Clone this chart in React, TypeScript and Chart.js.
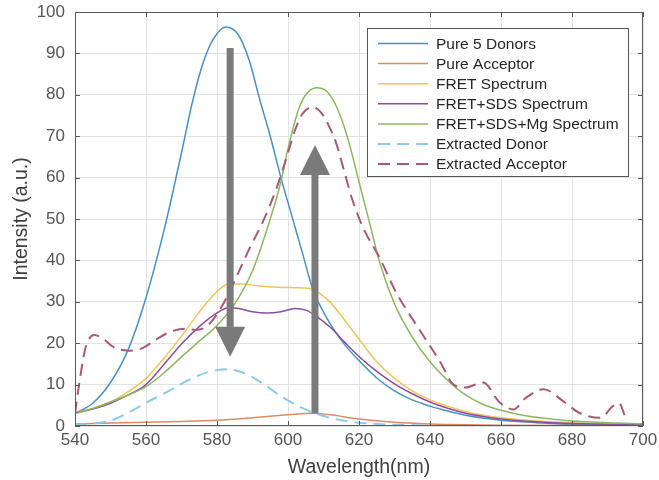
import React, { useEffect, useRef } from "react";
import { Chart, registerables } from "chart.js";

Chart.register(...registerables);

const FONT = "'Liberation Sans', Arial, Helvetica, sans-serif";

// ---- Data ----
const pureDonorX = [540, 545, 550, 555, 560, 565, 570, 573, 576, 579, 582.5, 586, 589, 592, 595, 598, 601, 604, 607, 610, 613, 616, 620, 625, 630, 635, 640, 645, 650, 660, 670, 680, 690, 700];
const pureDonorY = [3, 5.5, 10.5, 18.5, 31, 47, 66, 78, 87.5, 93.5, 96.4, 94.5, 88.5, 79, 70, 60, 51, 42, 33, 27.5, 23.2, 19.6, 15.8, 11.6, 8.5, 6.3, 4.8, 3.6, 2.6, 1.4, 0.8, 0.4, 0.3, 0.2];

const pureAcceptorX = [540, 550, 560, 570, 580, 590, 600, 607, 612, 620, 630, 640, 650, 660, 680, 700];
const pureAcceptorY = [0.5, 0.7, 0.9, 1.1, 1.4, 2, 2.7, 3.1, 2.7, 1.7, 0.9, 0.5, 0.3, 0.2, 0.1, 0.1];

const fretX = [540, 545, 550, 555, 560, 565, 570, 575, 580, 583, 587, 592, 597, 602, 606, 609, 612, 616, 620, 625, 630, 635, 640, 645, 650, 655, 660, 670, 680, 690, 700];
const fretY = [3.2, 4.3, 5.8, 8.3, 11.5, 16.3, 21.7, 27.5, 32.5, 34.2, 34.3, 33.8, 33.5, 33.4, 33.2, 32, 29.8, 25.5, 21, 15.5, 11.5, 8.5, 6.3, 4.8, 3.5, 2.6, 2, 1.2, 0.8, 0.5, 0.4];

const fretSdsX = [540, 545, 550, 555, 560, 565, 570, 575, 580, 583, 586, 590, 594, 598, 602, 605, 608, 612, 616, 620, 625, 630, 635, 640, 645, 650, 655, 660, 670, 680, 700];
const fretSdsY = [3.1, 4.1, 5.5, 7.5, 10, 14.8, 19.8, 24, 27.3, 28.5, 28.4, 27.6, 27.3, 27.6, 28.4, 28, 26.5, 23.8, 20.2, 16.8, 13.2, 10.2, 7.8, 5.8, 4.3, 3.1, 2.3, 1.7, 1, 0.6, 0.3];

const fretSdsMgX = [540, 545, 550, 555, 560, 565, 570, 575, 580, 585, 590, 595, 598, 600, 603, 605, 608, 611, 614, 617, 620, 623, 626, 630, 635, 640, 645, 650, 655, 660, 665, 670, 680, 690, 700];
const fretSdsMgY = [3, 4.2, 5.8, 7.5, 9.5, 12.8, 16.7, 20.5, 24.3, 29.5, 37.5, 50, 59, 67, 76.5, 80, 81.7, 80.8, 76.5, 69, 59, 49, 39, 29.5, 21.5, 15.5, 11, 7.5, 5.2, 3.8, 2.8, 2.1, 1.2, 0.8, 0.5];

const extractedDonorX = [540, 545, 550, 555, 560, 565, 570, 575, 580, 583, 587, 590, 594, 598, 602, 606, 610, 615, 620, 630, 640];
const extractedDonorY = [0.3, 0.6, 1.3, 3.2, 5.6, 7.8, 10.2, 12.3, 13.5, 13.7, 13, 11.8, 9.6, 7.2, 5.2, 3.6, 2.4, 1.4, 0.8, 0.3, 0.1];

const extractedAcceptorX = [540, 541.5, 543, 545.5, 548, 551, 555, 559, 563, 567, 571, 574, 577, 580, 583, 586, 589, 593, 597, 600, 602, 604, 607, 609.5, 611.5, 613.5, 616, 618, 621, 626, 630.5, 637, 643, 646.5, 650, 655, 659.5, 663.5, 667, 672, 677.5, 682, 688, 691.5, 693.2, 695];
const extractedAcceptorY = [3, 12, 19, 22, 21, 19, 18.2, 18.8, 21, 22.8, 23.5, 23.2, 24, 27, 31.5, 37, 42.6, 49.5, 58, 66, 71.5, 75.3, 77.1, 75.5, 72.5, 68.5, 61, 55, 48.2, 40.3, 32.2, 23.3, 15.3, 10.1, 9.3, 10.5, 5.8, 4, 6.8, 8.9, 6, 3.2, 2, 4.8, 5.6, 2.2];

const seriesLabels = [
  "Pure 5 Donors",
  "Pure Acceptor",
  "FRET Spectrum",
  "FRET+SDS Spectrum",
  "FRET+SDS+Mg Spectrum",
  "Extracted Donor",
  "Extracted Acceptor",
];
const seriesX = [pureDonorX, pureAcceptorX, fretX, fretSdsX, fretSdsMgX, extractedDonorX, extractedAcceptorX];
const seriesY = [pureDonorY, pureAcceptorY, fretY, fretSdsY, fretSdsMgY, extractedDonorY, extractedAcceptorY];
const seriesColors = ["#4a90c8", "#dc8a68", "#f0c45c", "#8a4e9c", "#8cb860", "#8ccbe8", "#a85a72"];
const seriesDashed = [false, false, false, false, false, true, true];

// Arrow annotations (data units): x position, start value, tip value
const arrowX = [583.7, 607.6];
const arrowFrom = [91.3, 3.1];
const arrowTo = [16.7, 67.9];

const xMin = 540, xMax = 700, xStep = 20;
const yMin = 0, yMax = 100, yStep = 10;

const overlayPlugin = {
  id: "overlay",
  afterDatasetsDraw(chart: any) {
    const { ctx, chartArea, scales } = chart;
    const xs = scales.x, ys = scales.y;
    const { left, right, top, bottom } = chartArea;
    ctx.save();

    // Axes box + inward ticks
    ctx.strokeStyle = "#5a5a5a";
    ctx.lineWidth = 1;
    ctx.beginPath();
    ctx.rect(left + 0.5, top + 0.5, right - left - 1, bottom - top - 1);
    ctx.stroke();
    const tl = 5;
    ctx.beginPath();
    xs.ticks.forEach((t: any) => {
      const px = Math.round(xs.getPixelForValue(t.value)) + 0.5;
      ctx.moveTo(px, bottom); ctx.lineTo(px, bottom - tl);
      ctx.moveTo(px, top); ctx.lineTo(px, top + tl);
    });
    ys.ticks.forEach((t: any) => {
      const py = Math.round(ys.getPixelForValue(t.value)) + 0.5;
      ctx.moveTo(left, py); ctx.lineTo(left + tl, py);
      ctx.moveTo(right, py); ctx.lineTo(right - tl, py);
    });
    ctx.stroke();

    // Arrows
    ctx.fillStyle = "#7a7a7a";
    for (let i = 0; i < arrowX.length; i++) {
      const px = xs.getPixelForValue(arrowX[i]);
      const y0 = ys.getPixelForValue(arrowFrom[i]);
      const y1 = ys.getPixelForValue(arrowTo[i]);
      const dir = Math.sign(y1 - y0);
      const headLen = 30, headHalf = 15, shaft = 7;
      const base = y1 - dir * headLen;
      ctx.fillRect(px - shaft / 2, Math.min(y0, base), shaft, Math.abs(base - y0));
      ctx.beginPath();
      ctx.moveTo(px - headHalf, base);
      ctx.lineTo(px + headHalf, base);
      ctx.lineTo(px, y1);
      ctx.closePath();
      ctx.fill();
    }

    // Legend
    const lw = 261, lh = 148;
    const lx = right - 15 - lw;
    const ly = top + 16;
    ctx.fillStyle = "#ffffff";
    ctx.fillRect(lx, ly, lw, lh);
    ctx.strokeStyle = "#555555";
    ctx.lineWidth = 1;
    ctx.strokeRect(Math.round(lx) + 0.5, Math.round(ly) + 0.5, lw, lh);
    ctx.font = `15.5px ${FONT}`;
    ctx.textBaseline = "middle";
    ctx.textAlign = "left";
    chart.data.datasets.forEach((ds: any, i: number) => {
      const cy = ly + 15.5 + i * 20.1;
      ctx.strokeStyle = ds.borderColor;
      ctx.lineWidth = ds.borderWidth;
      ctx.setLineDash(ds.borderDash || []);
      ctx.beginPath();
      ctx.moveTo(lx + 11, cy);
      ctx.lineTo(lx + 61, cy);
      ctx.stroke();
      ctx.setLineDash([]);
      ctx.fillStyle = "#262626";
      ctx.fillText(ds.label, lx + 69, cy + 1);
    });

    ctx.restore();
  },
};

export default function App() {
  const canvasRef = useRef<HTMLCanvasElement | null>(null);

  useEffect(() => {
    if (!canvasRef.current) return;
    const datasets = seriesLabels.map((label, i) => ({
      label,
      data: seriesX[i].map((x, j) => ({ x, y: seriesY[i][j] })),
      borderColor: seriesColors[i],
      backgroundColor: seriesColors[i],
      borderWidth: seriesDashed[i] ? 2 : 1.5,
      borderDash: seriesDashed[i] ? [12, 7] : [],
      pointRadius: 0,
      fill: false,
      cubicInterpolationMode: "monotone" as const,
      order: seriesLabels.length - i,
    }));
    const tickFont = { family: FONT, size: 17 };
    const titleFont = { family: FONT, size: 19.5 };
    const chart = new Chart(canvasRef.current, {
      type: "line",
      data: { datasets },
      options: {
        animation: false,
        responsive: false,
        devicePixelRatio: 1,
        layout: { padding: { top: 12, right: 16, left: 0, bottom: 0 } },
        plugins: { legend: { display: false }, tooltip: { enabled: false } },
        scales: {
          x: {
            type: "linear",
            min: xMin,
            max: xMax,
            ticks: { stepSize: xStep, padding: 4, color: "#555555", font: tickFont, maxRotation: 0 },
            grid: { color: "#e3e3e3", drawTicks: false },
            border: { display: false },
            title: { display: true, text: "Wavelength(nm)", color: "#404040", font: titleFont, padding: { top: 0, bottom: 1 } },
            afterFit(s: any) {
              s.height = 54;
              s.paddingLeft = 0;
              s.paddingRight = 0;
            },
          },
          y: {
            type: "linear",
            min: yMin,
            max: yMax,
            ticks: { stepSize: yStep, padding: 10, color: "#555555", font: tickFont },
            grid: { color: "#e3e3e3", drawTicks: false },
            border: { display: false },
            title: { display: true, text: "Intensity (a.u.)", color: "#404040", font: titleFont, padding: { top: 10, bottom: 0 } },
            afterFit(s: any) {
              s.width = 75;
              s.paddingTop = 0;
              s.paddingBottom = 0;
            },
          },
        },
      },
      plugins: [overlayPlugin],
    });
    return () => chart.destroy();
  }, []);

  return (
    <div style={{ position: "absolute", left: 0, top: 0, width: 659, height: 480, background: "#fff" }}>
      <canvas ref={canvasRef} width={659} height={480} style={{ display: "block", width: 659, height: 480 }} />
    </div>
  );
}
